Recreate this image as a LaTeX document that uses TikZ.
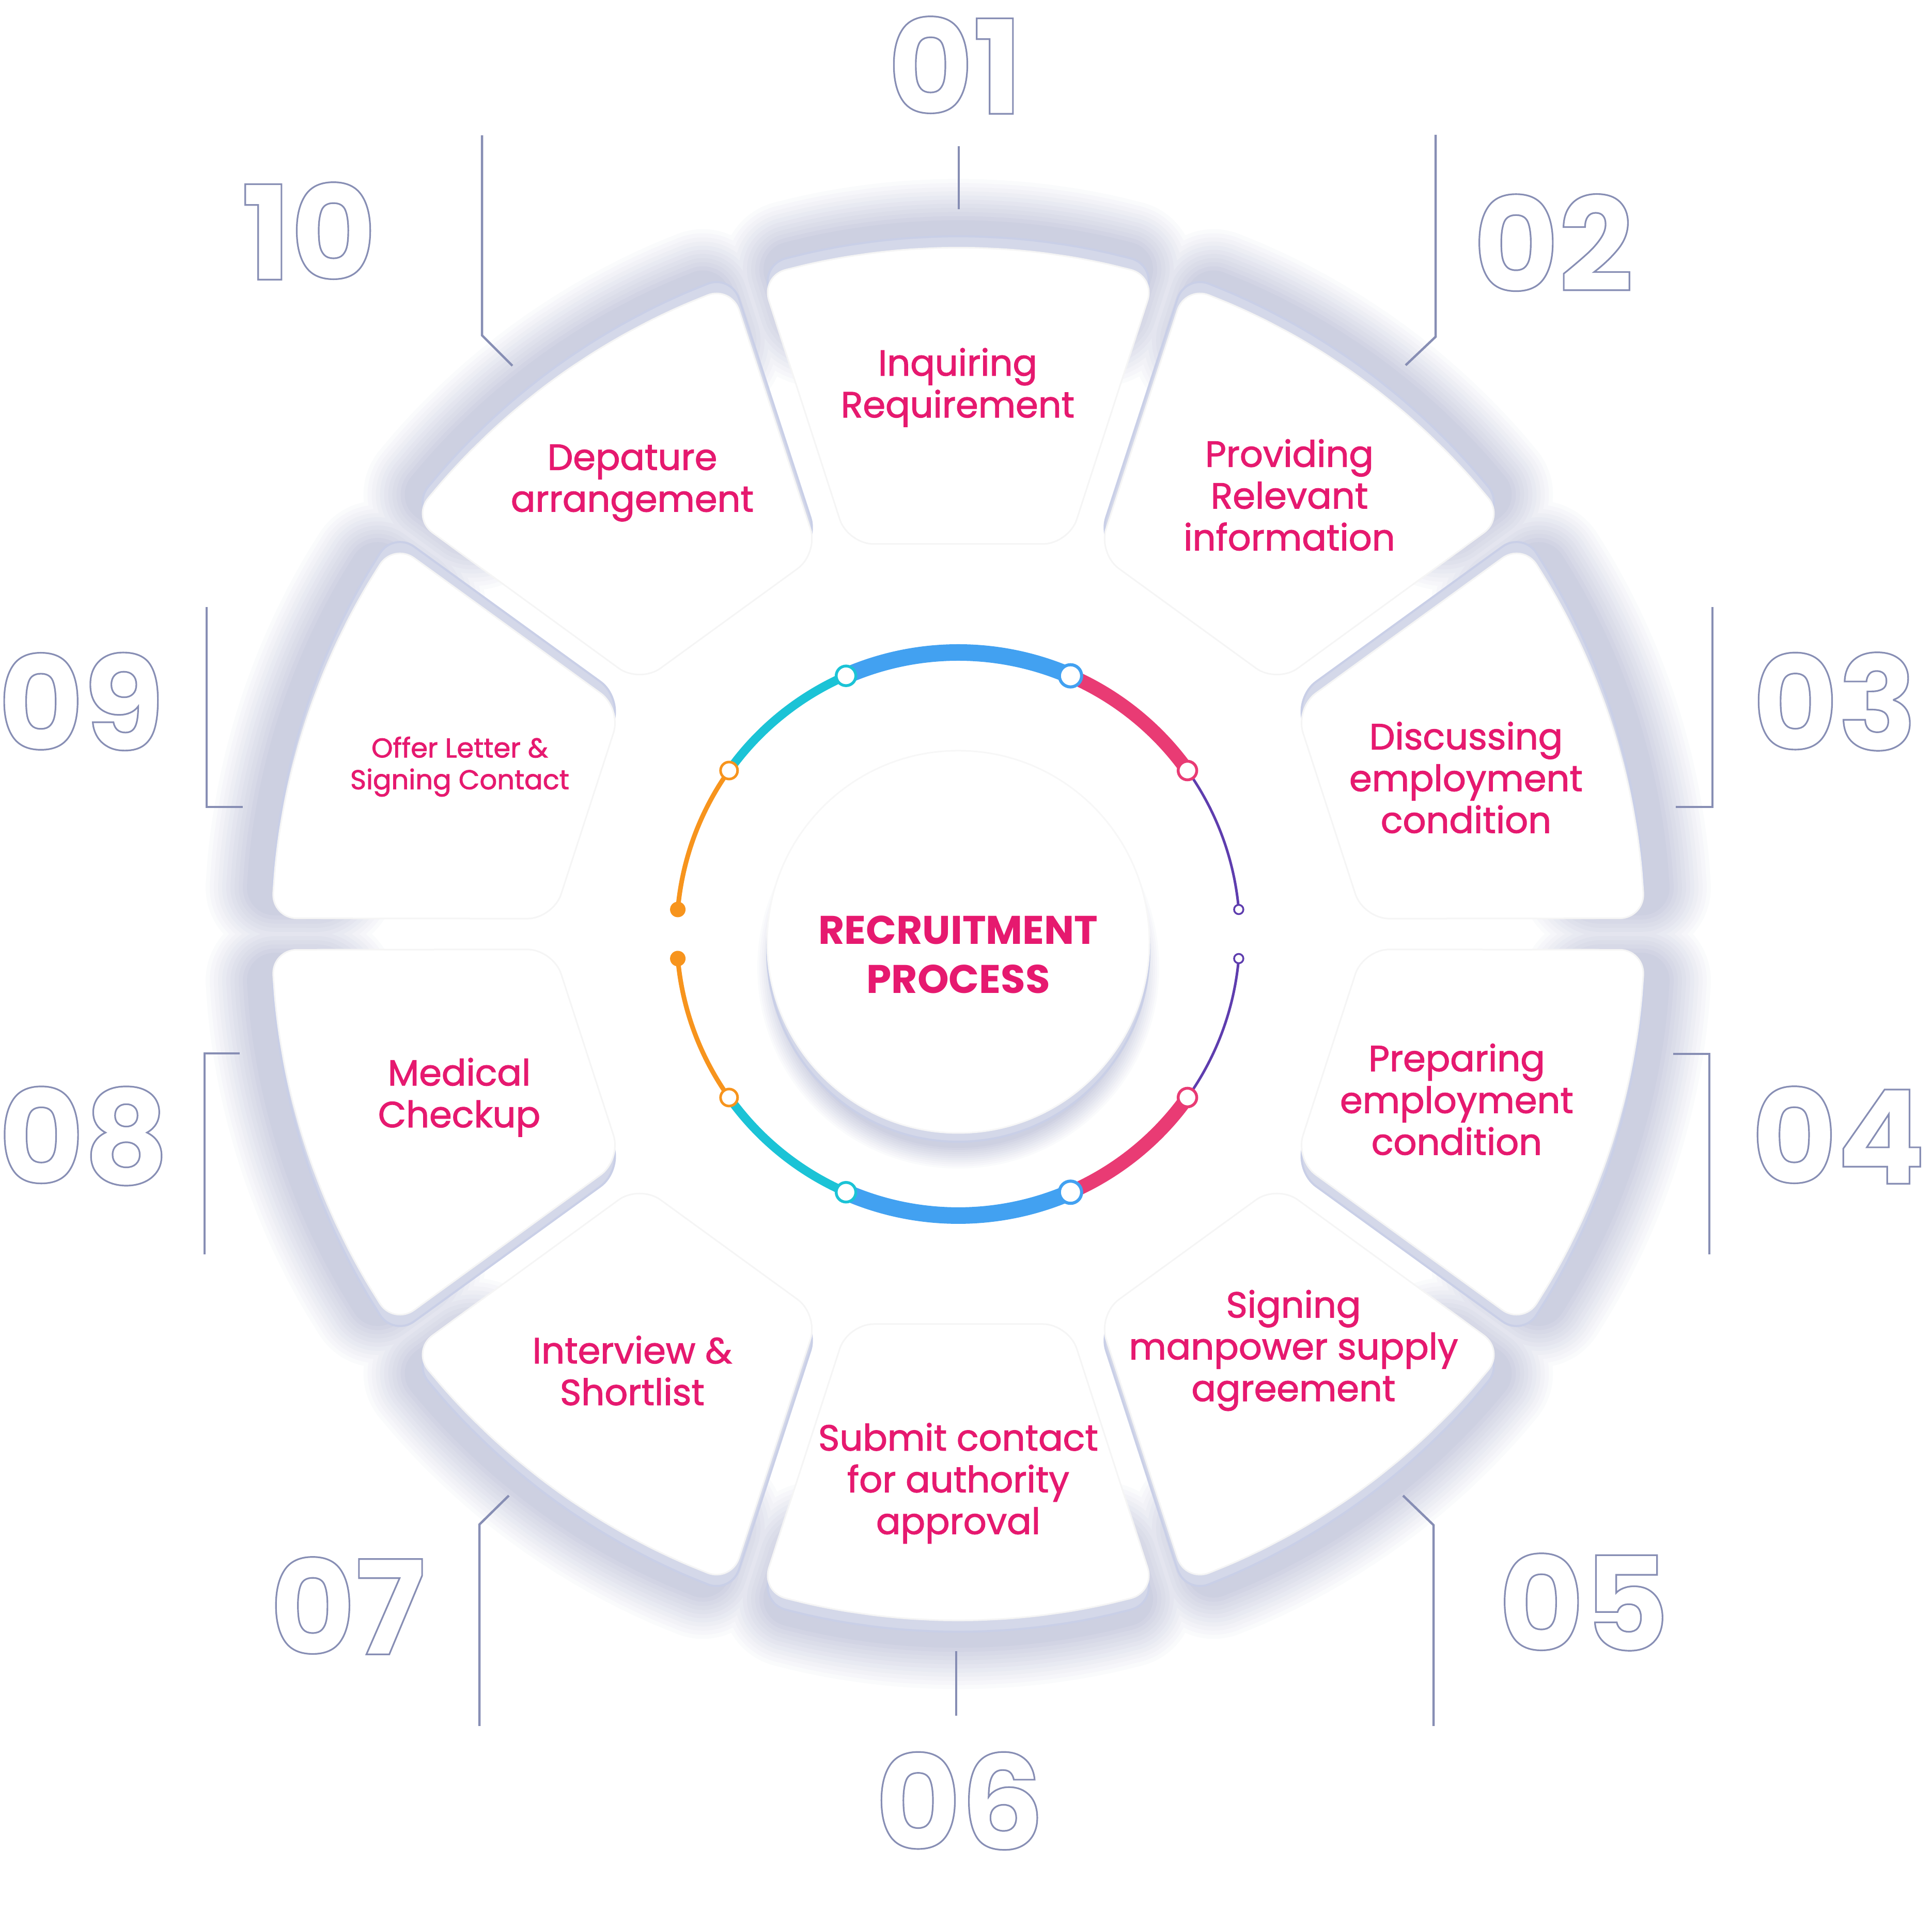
\documentclass[tikz,border=0pt]{standalone}
\usepackage{fontspec}
\setmainfont{Poppins}
\newfontfamily\labelfont{Poppins}[FakeBold=1.6]
\usetikzlibrary{calc}
\definecolor{stepink}{HTML}{E6196F}
\definecolor{numline}{HTML}{878EB4}
\definecolor{rimcol}{HTML}{D4D8E9}
\definecolor{rimedge}{HTML}{C9CFE7}
\definecolor{shadecol}{HTML}{B4B8D2}
\definecolor{ringblue}{HTML}{42A1F1}
\definecolor{ringpink}{HTML}{E93B74}
\definecolor{ringcyan}{HTML}{1BC3D6}
\definecolor{ringorange}{HTML}{F7941D}
\definecolor{ringpurple}{HTML}{5E3DAE}

% stroked (hollow) digits
\newcommand\hollow[1]{\special{pdf:literal direct 1 Tr 0.9 w}#1\special{pdf:literal direct 0 Tr}}
% one petal, axis pointing up, wheel centre at the origin
\newcommand\petalpath{(-2.14,7.55) -- (-3.82,12.74) -- (101:13.3) -- (95.5:13.3) -- (90:13.3) -- (84.5:13.3) -- (79:13.3) -- (3.82,12.74) -- (2.14,7.55) -- cycle}
% outer part only, used for the soft shadow
\newcommand\shadepath{(-3.27,11.03) -- (-3.82,12.74) -- (101:13.3) -- (95.5:13.3) -- (90:13.3) -- (84.5:13.3) -- (79:13.3) -- (3.82,12.74) -- (3.27,11.03) -- cycle}

\begin{document}
\begin{tikzpicture}[
 steptext/.style={text=stepink,align=center,font=\labelfont\fontsize{20}{23}\selectfont},
 stepnum/.style={text=numline,font=\fontsize{72}{72}\selectfont\bfseries,inner sep=0pt},
 leader/.style={numline,line width=.45mm},
 knot/.style={fill=white,line width=.55mm}]
\path[use as bounding box] (0,0) rectangle (37.40,37.30);
\coordinate (C) at (18.55,19.22);

\begin{scope}[shift={(C)}]
% soft shadows, lightest layer first so the darker ones stay on top
\foreach \lv in {1,...,11}{
  \pgfmathtruncatemacro\pct{6*\lv}
  \pgfmathsetmacro\shw{0.16*(12-\lv)}
  \foreach \k in {0,...,9}
    \path[rotate=-36*\k,shift={(0,.45)},fill=shadecol!\pct!white,draw=shadecol!\pct!white,
      line width=\shw cm,line join=round,rounded corners=5mm] \shadepath;
  \pgfmathsetmacro\shw{0.08*(12-\lv)}
  \path[fill=shadecol!\pct!white,draw=shadecol!\pct!white,line width=\shw cm] (0,-.65) circle (3.45);
}
% rims, pushed away from the horizontal axis
\foreach \k/\dy in {0/.22,1/.22,2/.22,3/-.22,4/-.22,5/-.22,6/-.22,7/-.22,8/.22,9/.22}
  \path[shift={(0,\dy)},rotate=-36*\k,fill=rimcol,draw=rimedge,line width=.4mm,rounded corners=5mm] \petalpath;
\path[fill=rimcol,draw=rimedge,line width=.4mm] (0,-.32) circle (3.7);
% faces
\foreach \k in {0,...,9}
  \path[rotate=-36*\k,fill=white,draw=black!4,line width=.3mm,rounded corners=5mm] \petalpath;
\path[fill=white,draw=black!3,line width=.3mm] (0,-.15) circle (3.7);

% coloured ring, mirrored about the horizontal
\foreach \s in {1,-1}{
  \draw[ringorange,line width=.9mm] ({\s*175}:5.45) arc[start angle=\s*175,end angle=\s*144.5,radius=5.45];
  \draw[ringcyan,line width=1.7mm] ({\s*144.5}:5.45) arc[start angle=\s*144.5,end angle=\s*113.5,radius=5.45];
  \draw[ringblue,line width=3.2mm] ({\s*113.5}:5.45) arc[start angle=\s*113.5,end angle=\s*66.5,radius=5.45];
  \draw[ringpink,line width=2.7mm] ({\s*66.5}:5.45) arc[start angle=\s*66.5,end angle=\s*35.5,radius=5.45];
  \draw[ringpurple,line width=.5mm] ({\s*35.5}:5.45) arc[start angle=\s*35.5,end angle=\s*5,radius=5.45];
  \fill[ringorange] ({\s*175}:5.45) circle (.15);
  \draw[knot,draw=ringorange,line width=.5mm] ({\s*144.5}:5.45) circle (.165);
  \draw[knot,draw=ringcyan] ({\s*113.5}:5.45) circle (.19);
  \draw[knot,draw=ringblue,line width=.6mm] ({\s*66.5}:5.45) circle (.215);
  \draw[knot,draw=ringpink] ({\s*35.5}:5.45) circle (.18);
  \draw[knot,draw=ringpurple,line width=.35mm] ({\s*5}:5.45) circle (.09);
}
\end{scope}

% hollow step numbers
\node[stepnum] (n01) at (18.49,36.04) {\hollow{01}};
\node[stepnum] (n02) at (30.07,32.60) {\hollow{02}};
\node[stepnum] (n03) at (35.52,23.72) {\hollow{03}};
\node[stepnum] (n04) at (35.59,15.33) {\hollow{04}};
\node[stepnum] (n05) at (30.66,6.29) {\hollow{05}};
\node[stepnum] (n06) at (18.58,2.44) {\hollow{06}};
\node[stepnum] (n07) at (6.73,6.22) {\hollow{07}};
\node[stepnum] (n08) at (1.62,15.31) {\hollow{08}};
\node[stepnum] (n09) at (1.57,23.72) {\hollow{09}};
\node[stepnum] (n10) at (5.98,32.83) {\hollow{10}};

\node[text=stepink,align=center,font=\fontsize{22}{27}\selectfont\bfseries] (title) at ($(C)+(0,-.4)$) {RECRUITMENT\\PROCESS};

% step texts
\node[steptext] (t01) at (18.54,29.80) {Inquiring\\Requirement};
\node[steptext] (t02) at (24.96,27.72) {Providing\\Relevant\\information};
\node[steptext] (t03) at (28.38,22.25) {Discussing\\employment\\condition};
\node[steptext] (t04) at (28.20,16.02) {Preparing\\employment\\condition};
\node[steptext] (t05) at (25.04,11.16) {Signing\\manpower supply\\agreement};
\node[steptext] (t06) at (18.55,8.59) {Submit contact\\for authority\\approval};
\node[steptext] (t07) at (12.24,10.77) {Interview \&\\Shortlist};
\node[steptext] (t08) at (8.89,16.06) {Medical\\Checkup};
\node[steptext,font=\labelfont\fontsize{15}{17.5}\selectfont] (t09) at (8.90,22.46) {Offer Letter \&\\Signing Contact};
\node[steptext] (t10) at (12.24,27.95) {Depature\\arrangement};

% leader lines
\draw[leader] (18.56,34.47) -- (18.56,33.25);
\draw[leader] (27.79,34.69) -- (27.79,30.78) -- (27.21,30.23);
\draw[leader] (33.15,25.55) -- (33.15,21.68) -- (32.44,21.68);
\draw[leader] (32.39,16.90) -- (33.09,16.90) -- (33.09,13.02);
\draw[leader] (27.16,8.35) -- (27.75,7.78) -- (27.75,3.89);
\draw[leader] (18.51,5.34) -- (18.51,4.09);
\draw[leader] (9.85,8.35) -- (9.28,7.79) -- (9.28,3.89);
\draw[leader] (4.64,16.91) -- (3.96,16.91) -- (3.96,13.02);
\draw[leader] (4.00,25.55) -- (4.00,21.68) -- (4.70,21.68);
\draw[leader] (9.33,34.68) -- (9.33,30.81) -- (9.92,30.22);
\end{tikzpicture}
\end{document}
